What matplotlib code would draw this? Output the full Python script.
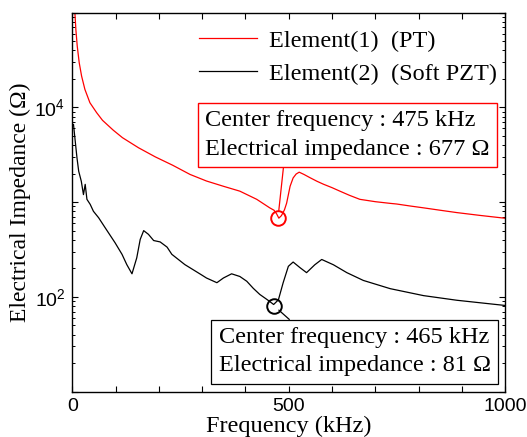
import matplotlib
matplotlib.use('Agg')
import matplotlib.pyplot as plt

plt.rcParams['font.family'] = ['Liberation Serif', 'DejaVu Serif']
plt.rcParams['mathtext.fontset'] = 'custom'
plt.rcParams['mathtext.rm'] = 'Liberation Sans'
plt.rcParams['mathtext.it'] = 'Liberation Sans:italic'

#%%

# Element(1) (PT) impedance curve
freq_pt = [3, 6.2, 8.5, 11.6, 16.2, 21.7, 29.3, 40.9, 56.4, 70, 94.7, 116,
           153, 192, 232, 272, 310, 349, 387, 426, 456, 466, 472, 477, 483,
           490, 495, 503, 510, 517, 524, 535, 549, 565, 580, 600, 618, 640,
           664, 700, 734, 749, 780, 811, 850, 888, 940, 1000]
imp_pt = [140000, 100000, 66000, 44500, 29600, 21400, 15500, 11200, 8800,
          7300, 5750, 4790, 3750, 3000, 2450, 1960, 1670, 1470, 1305, 1070,
          870, 820, 750, 677, 720, 830, 975, 1470, 1800, 1980, 2070, 1960,
          1810, 1660, 1545, 1420, 1305, 1180, 1070, 1010, 970, 955, 910, 870,
          820, 775, 725, 675]

# Element(2) (Soft PZT) impedance curve
freq_pzt = [3, 7, 11, 15, 21, 26, 30, 34, 41.6, 49, 61, 76, 99, 115, 126,
            138, 149, 157, 165, 176, 188, 203, 219, 230, 260, 299, 310, 334,
            349, 368, 387, 403, 418, 433, 445, 455, 465, 476, 487, 499, 510,
            526, 541, 560, 576, 603, 634, 672, 734, 811, 888, 1000]
imp_pzt = [6600, 4400, 2940, 2120, 1660, 1200, 1540, 1070, 946, 800, 684, 537,
           372, 281, 219, 175, 258, 404, 500, 457, 393, 380, 335, 281, 219,
           170, 158, 141, 158, 175, 164, 146, 123, 106, 97, 90, 83, 93, 141,
           210, 233, 203, 180, 218, 248, 218, 180, 149, 122, 103, 92, 81]

labels = ['Element(1)  (PT)', 'Element(2)  (Soft PZT)']

# center points marked with circles
center_freq = [475, 465]
center_imp = [677, 81]

xticks = [0, 100, 200, 300, 400, 500, 600, 700, 800, 900, 1000]
xtick_labels = ['0', '', '', '', '', '500', '', '', '', '', '1000']
yticks = [10, 100, 1000, 10000, 100000]
ytick_labels = ['', '$10^{2}$', '', '$10^{4}$', '']

#%%

fig = plt.figure(figsize=(5.27, 4.37), dpi=100)
ax = fig.add_axes([0.137, 0.104, 0.822, 0.867])

ax.plot(freq_pt, imp_pt, color='red', lw=0.9, label=labels[0])
ax.plot(freq_pzt, imp_pzt, color='black', lw=0.9, label=labels[1])

ax.plot(center_freq[0], center_imp[0], 'o', ms=10.5, mfc='none',
        mec='red', mew=1.4)
ax.plot(center_freq[1], center_imp[1], 'o', ms=10.5, mfc='none',
        mec='black', mew=1.4)

ax.set_yscale('log')
ax.set_xlim(0, 1000)
ax.set_ylim(10, 100000)
ax.set_xticks(xticks)
ax.set_xticklabels(xtick_labels)
ax.set_yticks(yticks)
ax.set_yticklabels(ytick_labels)

ax.tick_params(which='both', direction='in', top=True, right=True,
               labelsize=14, labelfontfamily='Liberation Sans')
ax.tick_params(which='major', length=4.5, width=0.8, pad=5)
ax.tick_params(which='minor', length=2.5, width=0.7)
ax.tick_params(axis='x', which='minor', bottom=False, top=False)
for s in ax.spines.values():
    s.set_linewidth(1.0)

ax.set_xlabel('Frequency (kHz)', fontsize=17.5, labelpad=0)
ax.set_ylabel('Electrical Impedance (\u03a9)', fontsize=17, labelpad=2)

ax.legend(loc='upper right', bbox_to_anchor=(1.012, 0.99), frameon=False,
          fontsize=17.5, handlelength=2.4, handletextpad=0.5,
          labelspacing=0.45, borderaxespad=0.15)

# annotation boxes
txt_pt = 'Center frequency : %d kHz\nElectrical impedance : %d \u03a9' % (
    center_freq[0], center_imp[0])
txt_pzt = 'Center frequency : %d kHz\nElectrical impedance : %d \u03a9' % (
    center_freq[1], center_imp[1])

ax.annotate(txt_pt, xy=(center_freq[0], center_imp[0]),
            xytext=(0.307, 0.612), textcoords='axes fraction',
            fontsize=17.5, ha='left', va='bottom', linespacing=1.45,
            bbox=dict(boxstyle='square,pad=0.3', fc='white', ec='red',
                      lw=1.0),
            arrowprops=dict(arrowstyle='-', color='red', lw=0.9,
                            relpos=(0.278, 0.0), shrinkA=0, shrinkB=5))
ax.annotate(txt_pzt, xy=(center_freq[1], center_imp[1]),
            xytext=(0.338, 0.040), textcoords='axes fraction',
            fontsize=17.5, ha='left', va='bottom', linespacing=1.45,
            bbox=dict(boxstyle='square,pad=0.3', fc='white', ec='black',
                      lw=0.9),
            arrowprops=dict(arrowstyle='-', color='black', lw=0.9,
                            relpos=(0.292, 1.0), shrinkA=0, shrinkB=5))

fig.savefig('out.png', dpi=100)
